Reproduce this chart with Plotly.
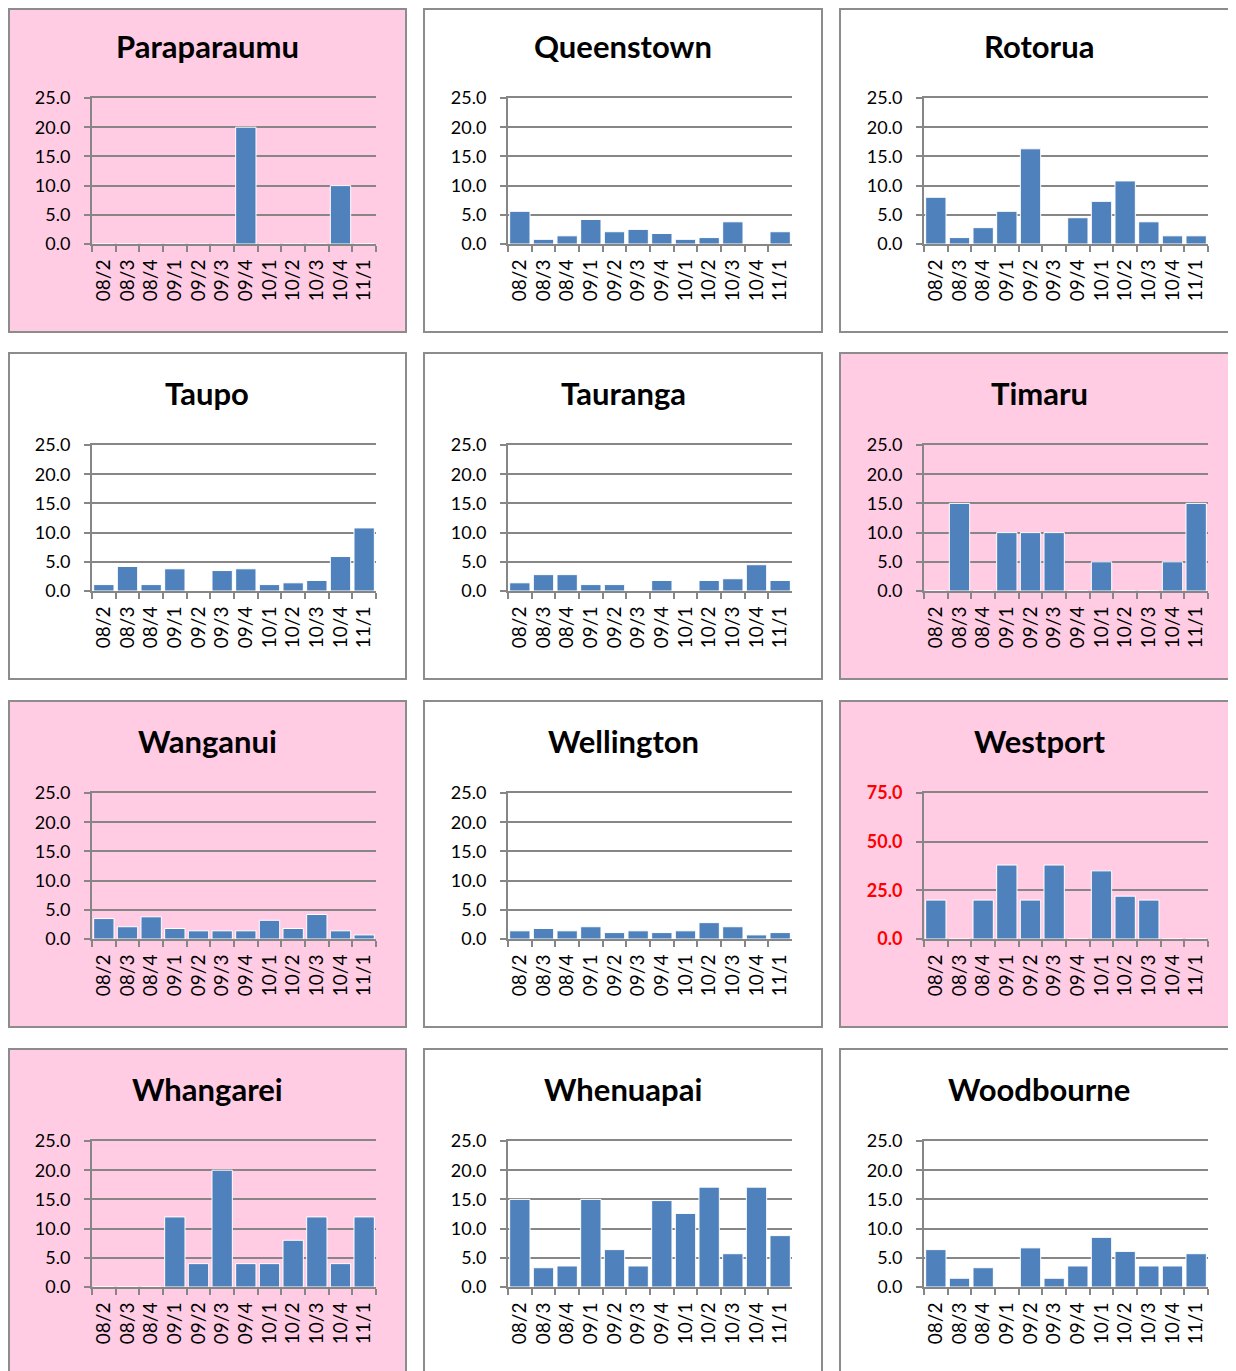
import plotly.graph_objects as go

# quarter labels
categories = ["08/2", "08/3", "08/4", "09/1", "09/2", "09/3",
              "09/4", "10/1", "10/2", "10/3", "10/4", "11/1"]

stations = ["Paraparaumu", "Queenstown", "Rotorua",
            "Taupo", "Tauranga", "Timaru",
            "Wanganui", "Wellington", "Westport",
            "Whangarei", "Whenuapai", "Woodbourne"]

paraparaumu = [0, 0, 0, 0, 0, 0, 20, 0, 0, 0, 10, 0]
queenstown = [5.6, 0.8, 1.4, 4.2, 2.1, 2.5, 1.8, 0.8, 1.1, 3.8, 0, 2.1]
rotorua = [8.0, 1.1, 2.8, 5.6, 16.3, 0, 4.5, 7.3, 10.8, 3.8, 1.4, 1.4]
taupo = [1.1, 4.2, 1.1, 3.8, 0, 3.5, 3.8, 1.1, 1.4, 1.8, 5.9, 10.8]
tauranga = [1.4, 2.8, 2.8, 1.1, 1.1, 0, 1.8, 0, 1.8, 2.1, 4.5, 1.8]
timaru = [0, 15, 0, 10, 10, 10, 0, 5, 0, 0, 5, 15]
wanganui = [3.5, 2.1, 3.8, 1.8, 1.4, 1.4, 1.4, 3.2, 1.8, 4.2, 1.4, 0.7]
wellington = [1.4, 1.8, 1.4, 2.1, 1.1, 1.4, 1.1, 1.4, 2.8, 2.1, 0.7, 1.1]
westport = [20, 0, 20, 38, 20, 38, 0, 35, 22, 20, 0, 0]
whangarei = [0, 0, 0, 12, 4, 20, 4, 4, 8, 12, 4, 12]
whenuapai = [15, 3.3, 3.6, 15, 6.4, 3.6, 14.8, 12.6, 17.1, 5.7, 17.1, 8.8]
woodbourne = [6.4, 1.5, 3.3, 0, 6.7, 1.5, 3.6, 8.5, 6.1, 3.6, 3.6, 5.7]

series = [paraparaumu, queenstown, rotorua, taupo, tauranga, timaru,
          wanganui, wellington, westport, whangarei, whenuapai, woodbourne]

# y axis max per panel (Westport on its own scale)
y_max = [25, 25, 25, 25, 25, 25, 25, 25, 75, 25, 25, 25]
y_step = [5, 5, 5, 5, 5, 5, 5, 5, 25, 5, 5, 5]

# styling
pink_panels = {"Paraparaumu", "Timaru", "Wanganui", "Westport", "Whangarei"}
PINK = "#FFCCE4"
BAR = "#4F81BD"
GRID = "#868686"
FONT = "Lato"

# page body has an 8px margin, so lay things out in page pixels minus that
OFF = 8
FW, FH = 1236 - OFF, 1371 - OFF
col_left = [8, 424, 840]
row_top = [6, 353, 701, 1049]
panel_w, panel_h = 398, 326


def fx(x):
    return (x - OFF) / FW


def fy(y):
    return 1 - (y - OFF) / FH


fig = go.Figure()
shapes = []
annotations = []
axes = {}

for i, name in enumerate(stations):
    r, c = divmod(i, 3)
    left, top = col_left[c], row_top[r]
    n = i + 1
    sfx = "" if n == 1 else str(n)

    shapes.append(dict(
        type="rect", xref="paper", yref="paper", layer="below",
        x0=fx(max(left, OFF + 1)), x1=fx(left + panel_w),
        y0=fy(top + panel_h), y1=fy(max(top, OFF + 1)),
        fillcolor=PINK if name in pink_panels else "white",
        line=dict(color="#8C8C8C", width=2)))

    annotations.append(dict(
        text="<b>%s</b>" % name, xref="paper", yref="paper",
        x=fx(left + panel_w / 2), y=fy(top + 40),
        xanchor="center", yanchor="middle", showarrow=False,
        font=dict(family=FONT, size=31, color="black")))

    fig.add_trace(go.Bar(
        x=categories, y=series[i], xaxis="x" + sfx, yaxis="y" + sfx,
        marker=dict(color=BAR, line=dict(color="white", width=1)),
        showlegend=False, hoverinfo="skip"))

    # mirror=True gives the top gridline that plotly drops at the range edge
    axes["xaxis" + sfx] = dict(
        domain=[fx(left + 84), fx(left + 368)], anchor="y" + sfx,
        type="category", showgrid=False, zeroline=False, automargin=False,
        showline=True, mirror=True, linecolor=GRID, linewidth=2,
        ticks="outside", ticklen=6, tickwidth=2, tickcolor=GRID,
        tickson="boundaries", tickangle=-90, ticklabelstandoff=6,
        tickfont=dict(family=FONT, size=19, color="black"),
        fixedrange=True)

    red = name == "Westport"
    axes["yaxis" + sfx] = dict(
        domain=[fy(top + 238), fy(top + 92)], anchor="x" + sfx,
        range=[0, y_max[i]], dtick=y_step[i], tick0=0, tickformat=".1f",
        showgrid=True, gridcolor=GRID, gridwidth=2, zeroline=False,
        automargin=False,
        showline=True, linecolor=GRID, linewidth=2,
        ticks="outside", ticklen=6, tickwidth=2, tickcolor=GRID,
        ticklabelstandoff=10,
        tickfont=dict(family=FONT, size=18,
                      color="#FF0000" if red else "black",
                      weight="bold" if red else "normal"),
        fixedrange=True)

fig.update_layout(
    width=FW, height=FH,
    margin=dict(l=0, r=0, t=0, b=0),
    paper_bgcolor="white", plot_bgcolor="white",
    bargap=0.14,
    shapes=shapes, annotations=annotations,
    **axes)

fig.write_html("out.html", config={"displayModeBar": False})
